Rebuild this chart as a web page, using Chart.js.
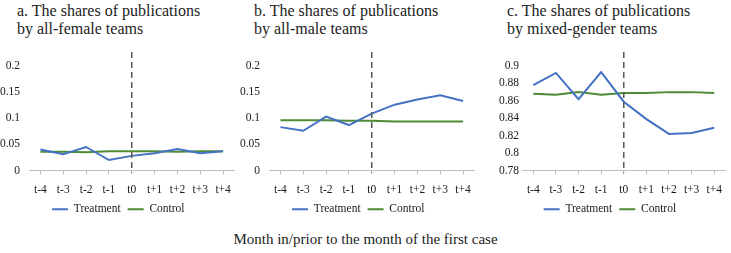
<!DOCTYPE html>
<html><head><meta charset="utf-8">
<script src="https://cdn.jsdelivr.net/npm/chart.js@4"></script>
<style>
body{margin:0;background:#fff;width:731px;height:253px;position:relative;overflow:hidden;font-family:"Liberation Serif","Times New Roman",serif;color:#222;}
.t{position:absolute;font-size:16px;line-height:18px;white-space:nowrap;}
.c{position:absolute;}
#cap{position:absolute;left:0;width:731px;top:231px;text-align:center;font-size:15px;}
</style></head><body>
<div class="t" style="left:17px;top:2px">a. The shares of publications<br>by all-female teams</div>
<div class="t" style="left:254px;top:2px">b. The shares of publications<br>by all-male teams</div>
<div class="t" style="left:507px;top:2px">c. The shares of publications<br>by mixed-gender teams</div>
<div class="c" style="left:0;top:40px;width:240px;height:185px"><canvas id="ca"></canvas></div>
<div class="c" style="left:240px;top:40px;width:240px;height:185px"><canvas id="cb"></canvas></div>
<div class="c" style="left:490px;top:40px;width:241px;height:185px"><canvas id="cc"></canvas></div>
<div id="cap">Month in/prior to the month of the first case</div>
<script>
const months = ["t-4","t-3","t-2","t-1","t0","t+1","t+2","t+3","t+4"];
const seriesNames = ["Treatment","Control"];
const femaleTreatment = [0.040,0.031,0.045,0.020,0.028,0.033,0.041,0.033,0.037];
const femaleControl   = [0.036,0.036,0.035,0.037,0.037,0.037,0.036,0.037,0.037];
const maleTreatment   = [0.083,0.076,0.103,0.087,0.109,0.126,0.136,0.144,0.133];
const maleControl     = [0.096,0.096,0.096,0.095,0.095,0.094,0.094,0.094,0.094];
const mixedTreatment  = [0.878,0.892,0.862,0.893,0.859,0.839,0.822,0.823,0.829];
const mixedControl    = [0.868,0.867,0.870,0.867,0.869,0.869,0.870,0.870,0.869];
const eventMonth = "t0";

const BLUE="#4472C4", GREEN="#4E8B35";
Chart.defaults.font.family = "'Liberation Serif', 'Times New Roman', serif";
Chart.defaults.font.size = 11.5;
Chart.defaults.color = "#1a1a1a";

const vline={id:'vline',afterDatasetsDraw(ch){
  const x=ch.scales.x.getPixelForValue(months.indexOf(eventMonth));
  const ctx=ch.ctx;ctx.save();ctx.strokeStyle="#595959";ctx.lineWidth=1.5;ctx.setLineDash([6,4]);
  ctx.beginPath();ctx.moveTo(x,12);ctx.lineTo(x,ch.chartArea.bottom+2);ctx.stroke();ctx.restore();
}};

function make(id,tr,co,min,max,step,yw,padR,yPad){
  new Chart(document.getElementById(id),{
    type:'line',
    data:{labels:months,datasets:[
      {label:seriesNames[0],data:tr,borderColor:BLUE,backgroundColor:BLUE,borderWidth:2,pointRadius:0,tension:0},
      {label:seriesNames[1],data:co,borderColor:GREEN,backgroundColor:GREEN,borderWidth:2,pointRadius:0,tension:0}
    ]},
    options:{responsive:true,maintainAspectRatio:false,animation:false,
      layout:{padding:{top:26,right:padR,left:0,bottom:0}},
      plugins:{tooltip:{enabled:false},
        legend:{position:'bottom',labels:{usePointStyle:true,pointStyle:'line',pointStyleWidth:16,boxHeight:11,padding:7}}},
      scales:{
        x:{offset:true,grid:{offset:false,drawOnChartArea:false,drawTicks:true,tickLength:4,color:'#BFBFBF'},
           border:{color:'#BFBFBF',width:1},
           ticks:{padding:9,maxRotation:0},
           afterFit(s){s.height=26;}},
        y:{min:min,max:max,grid:{display:false,drawTicks:false},border:{display:false},
           ticks:{stepSize:step,padding:yPad,callback:v=>String(Number(v.toFixed(3)))},
           afterFit(s){s.width=yw;}}
      }
    },
    plugins:[vline]
  });
}
make('ca',femaleTreatment,femaleControl,0,0.2,0.05,29,3.4,9);
make('cb',maleTreatment,maleControl,0,0.2,0.05,29,3.5,9);
make('cc',mixedTreatment,mixedControl,0.78,0.9,0.02,32,1.2,3);
</script></body></html>
